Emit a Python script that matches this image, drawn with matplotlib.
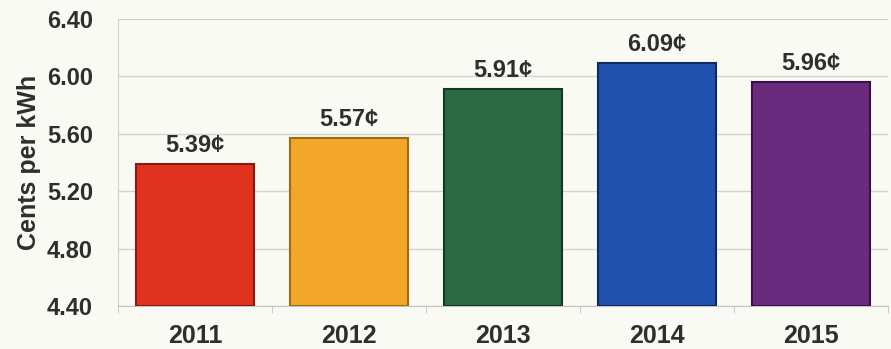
import matplotlib.pyplot as plt
import numpy as np

years = ['2011', '2012', '2013', '2014', '2015']
cents = [5.39, 5.57, 5.91, 6.09, 5.96]
bar_colors = ['#e0321f', '#f2a72a', '#2b6b42', '#2152b0', '#6a2b7f']
edge_colors = ['#8a1a10', '#a06a10', '#123a22', '#0f2a60', '#3a1048']
yticks = [4.40, 4.80, 5.20, 5.60, 6.00, 6.40]

plt.rcParams['font.family'] = ['Liberation Sans', 'DejaVu Sans']
bg = '#fafaf4'
txt = '#2e2e2e'

fig = plt.figure(figsize=(8.91, 3.49), dpi=100, facecolor=bg)
ax = fig.add_axes([0.1324, 0.123, 0.8642, 0.8226], facecolor=bg)

x = np.arange(len(years))
ax.bar(x, np.array(cents) - 4.40, bottom=4.40, width=0.77,
       color=bar_colors, edgecolor=edge_colors, linewidth=1.5, zorder=3)

for xi, v in zip(x, cents):
    ax.text(xi, v + 0.085, f'{v:.2f}\u00a2', ha='center', va='baseline',
            fontsize=17, fontweight='bold', color=txt)

ax.set_xlim(-0.5, len(years) - 0.5)
ax.set_ylim(4.40, 6.40)
ax.set_yticks(yticks)
ax.set_yticklabels([f'{t:.2f}' for t in yticks], fontsize=17,
                   fontweight='bold', color=txt)
ax.set_xticks(x)
ax.set_xticklabels(years, fontsize=18, fontweight='bold', color=txt)
ax.set_xticks(np.arange(-0.5, len(years)), minor=True)
ax.tick_params(axis='x', which='major', length=0, pad=13)
ax.tick_params(axis='x', which='minor', length=5, color='#c4c4c4')
ax.tick_params(axis='y', length=0, pad=18)
ax.set_ylabel('Cents per kWh', fontsize=18, fontweight='bold',
              color=txt, labelpad=4)

ax.grid(axis='y', color='#d4d4d0', linewidth=1, zorder=0)
for s in ['top', 'right']:
    ax.spines[s].set_visible(False)
ax.spines['left'].set_color('#d0d0cc')
ax.spines['bottom'].set_color('#c4c4c4')

fig.savefig('out.png', dpi=100, facecolor=bg)
